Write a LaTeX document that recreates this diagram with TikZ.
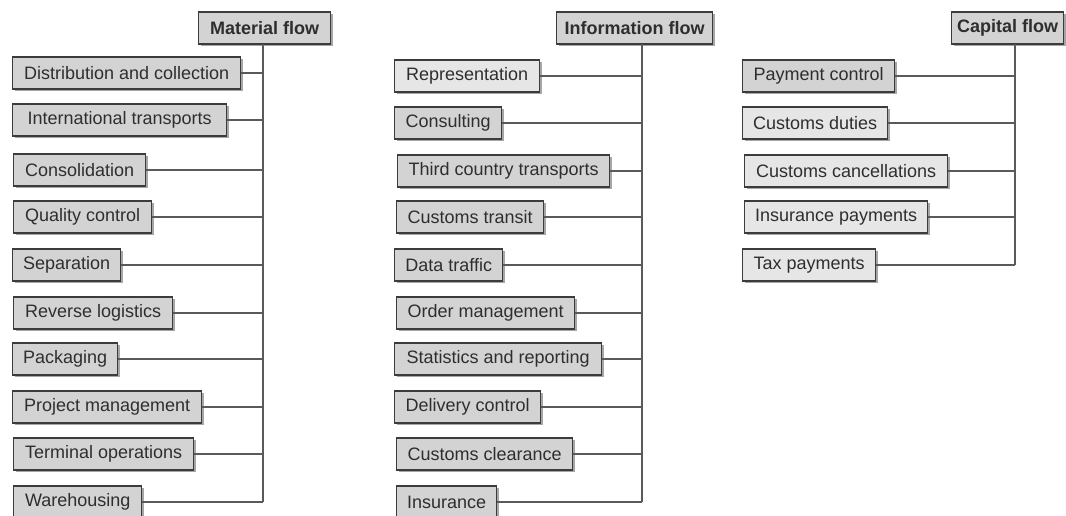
\documentclass[tikz,border=0pt]{standalone}
\usepackage{fontspec}
\setmainfont{Liberation Sans}
\usetikzlibrary{shadows}
\definecolor{boxdark}{HTML}{D3D3D3}
\definecolor{boxlight}{HTML}{E6E6E6}
\definecolor{edge}{HTML}{3C3C3C}
\definecolor{txt}{HTML}{2E2E2E}
\definecolor{wire}{HTML}{5A5A5A}
\tikzset{
  item/.style={draw=edge, line width=1.4pt, fill=boxdark, anchor=west,
    minimum height=32pt, inner xsep=0pt, inner ysep=0pt,
    font=\fontsize{18}{20}\selectfont, text=txt,
    drop shadow={shadow xshift=2pt, shadow yshift=-2pt, fill=black, opacity=0.35}},
  lightitem/.style={item, fill=boxlight},
  head/.style={item, font=\bfseries\fontsize{18}{20}\selectfont},
  wireline/.style={draw=wire, line width=1.2pt}
}
\newcommand{\itm}[6]{% style, name, left x, right x, center y, text
  \node[#1, minimum width={#4pt-#3pt}] (#2) at (#3,#5) {#6};}
\begin{document}
\begin{tikzpicture}[x=1pt,y=-1pt]
\useasboundingbox (0,0) rectangle (1066,516);
\clip (0,0) rectangle (1066,516);
% headers
\itm{head}{hm}{198}{330}{28}{Material flow}
\itm{head}{hi}{556}{712}{28}{Information flow}
\itm{head}{hc}{951}{1063}{28}{Capital flow}
% material
\itm{item}{m1}{12}{240}{73}{Distribution and collection}
\itm{item}{m2}{12}{226}{120}{International transports}
\itm{item}{m3}{13}{145}{170}{Consolidation}
\itm{item}{m4}{13}{151}{217}{Quality control}
\itm{item}{m5}{12}{120}{265}{Separation}
\itm{item}{m6}{13}{172}{313}{Reverse logistics}
\itm{item}{m7}{12}{117}{359}{Packaging}
\itm{item}{m8}{12}{201}{407}{Project management}
\itm{item}{m9}{13}{193}{454}{Terminal operations}
\itm{item}{m10}{13}{141}{502}{Warehousing}
% information
\itm{lightitem}{i1}{394}{539}{76}{Representation}
\itm{item}{i2}{394}{501}{123}{Consulting}
\itm{item}{i3}{397}{609}{171}{Third country transports}
\itm{item}{i4}{396}{543}{217}{Customs transit}
\itm{item}{i5}{394}{502}{265}{Data traffic}
\itm{item}{i6}{396}{574}{313}{Order management}
\itm{item}{i7}{394}{601}{359}{Statistics and reporting}
\itm{item}{i8}{394}{540}{407}{Delivery control}
\itm{item}{i9}{396}{572}{454}{Customs clearance}
\itm{item}{i10}{396}{496}{502}{Insurance}
% capital
\itm{item}{c1}{742}{894}{76}{Payment control}
\itm{lightitem}{c2}{742}{887}{123}{Customs duties}
\itm{lightitem}{c3}{744}{947}{171}{Customs cancellations}
\itm{lightitem}{c4}{744}{927}{217}{Insurance payments}
\itm{lightitem}{c5}{742}{875}{265}{Tax payments}
% trunks
\coordinate (mt) at (263,44);
\coordinate (it) at (642,44);
\coordinate (ct) at (1015,44);
\draw[wireline] (mt) -- (m10.east -| mt);
\draw[wireline] (it) -- (i10.east -| it);
\draw[wireline] (ct) -- (c5.east -| ct);
\foreach \n in {1,...,10} {
  \draw[wireline] (m\n.east) -- (m\n.east -| mt);
  \draw[wireline] (i\n.east) -- (i\n.east -| it);
}
\foreach \n in {1,...,5} {
  \draw[wireline] (c\n.east) -- (c\n.east -| ct);
}
\end{tikzpicture}
\end{document}
